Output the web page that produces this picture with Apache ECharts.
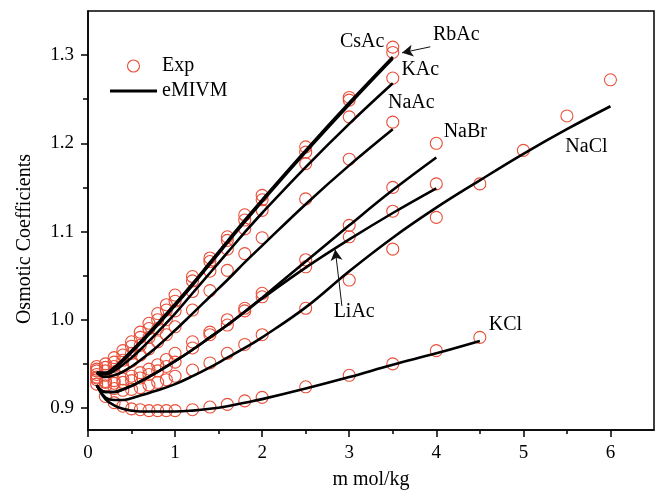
<!DOCTYPE html>
<html><head><meta charset="utf-8">
<script src="https://cdn.jsdelivr.net/npm/echarts@6/dist/echarts.min.js"></script>
<style>html,body{margin:0;padding:0;background:#fff}#c{width:660px;height:497px}</style>
</head><body><div id="c"></div>
<script>
// ---- Experimental molalities ----
const mAc = [0.1,0.2,0.3,0.4,0.5,0.6,0.7,0.8,0.9,1.0,1.2,1.4,1.6,1.8,2.0,2.5,3.0,3.5];
const mLiBr = [0.1,0.2,0.3,0.4,0.5,0.6,0.7,0.8,0.9,1.0,1.2,1.4,1.6,1.8,2.0,2.5,3.0,3.5,4.0];
const mKCl = [0.1,0.2,0.3,0.4,0.5,0.6,0.7,0.8,0.9,1.0,1.2,1.4,1.6,1.8,2.0,2.5,3.0,3.5,4.0,4.5];
const mNaCl = [0.1,0.2,0.3,0.4,0.5,0.6,0.7,0.8,0.9,1.0,1.2,1.4,1.6,1.8,2.0,2.5,3.0,3.5,4.0,4.5,5.0,5.5,6.0];

// ---- Experimental osmotic coefficients ----
const expCsAc = [0.947,0.950,0.957,0.965,0.975,0.986,0.996,1.007,1.017,1.028,1.049,1.070,1.094,1.119,1.141,1.196,1.252,1.309];
const expRbAc = [0.944,0.946,0.952,0.960,0.970,0.980,0.990,1.000,1.011,1.021,1.044,1.066,1.090,1.113,1.136,1.190,1.249,1.303];
const expKAc  = [0.942,0.942,0.947,0.954,0.962,0.971,0.980,0.990,1.000,1.010,1.032,1.055,1.080,1.103,1.124,1.177,1.230,1.274];
const expNaAc = [0.938,0.937,0.941,0.947,0.953,0.960,0.967,0.975,0.983,0.992,1.011,1.033,1.056,1.075,1.093,1.137,1.182,1.224];
const expNaBr = [0.934,0.930,0.931,0.933,0.936,0.940,0.944,0.949,0.955,0.962,0.975,0.986,1.000,1.013,1.030,1.068,1.107,1.150,1.200];
const expLiAc = [0.935,0.929,0.928,0.929,0.931,0.934,0.938,0.942,0.947,0.952,0.968,0.983,0.994,1.010,1.026,1.060,1.094,1.123,1.154];
const expNaCl = [0.932,0.925,0.922,0.920,0.921,0.923,0.926,0.929,0.932,0.936,0.943,0.951,0.962,0.972,0.983,1.013,1.045,1.080,1.116,1.154,1.192,1.231,1.272];
const expKCl  = [0.927,0.913,0.906,0.902,0.899,0.898,0.897,0.897,0.897,0.897,0.898,0.901,0.904,0.908,0.912,0.924,0.937,0.950,0.965,0.980];

// ---- eMIVM model curves ----
const mFit35 = [0.1,0.2,0.3,0.4,0.5,0.6,0.8,1.0,1.2,1.4,1.6,1.8,2.0,2.5,3.0,3.5];
const fitCsAc = [0.940,0.940,0.946,0.955,0.965,0.975,0.996,1.018,1.041,1.065,1.089,1.113,1.136,1.192,1.246,1.298];
const fitRbAc = [0.940,0.939,0.945,0.953,0.963,0.973,0.994,1.016,1.039,1.063,1.087,1.111,1.134,1.190,1.244,1.296];
const fitKAc  = [0.940,0.938,0.942,0.949,0.957,0.966,0.986,1.007,1.030,1.053,1.076,1.099,1.121,1.173,1.222,1.268];
const fitNaAc = [0.940,0.935,0.937,0.941,0.947,0.954,0.970,0.988,1.007,1.026,1.045,1.065,1.084,1.131,1.175,1.216];
const mFit40 = [0.1,0.2,0.3,0.4,0.5,0.6,0.8,1.0,1.2,1.4,1.6,1.8,2.0,2.5,3.0,3.5,4.0];
const fitNaBr = [0.925,0.918,0.918,0.921,0.925,0.930,0.941,0.953,0.966,0.980,0.994,1.009,1.025,1.066,1.107,1.147,1.184];
const fitLiAc = [0.925,0.918,0.918,0.921,0.925,0.930,0.941,0.953,0.966,0.980,0.994,1.009,1.024,1.059,1.091,1.121,1.149];
const mFitNaCl = [0.1,0.2,0.3,0.4,0.5,0.6,0.8,1.0,1.2,1.4,1.6,1.8,2.0,2.5,3.0,3.5,4.0,4.5,5.0,5.5,6.0];
const fitNaCl = [0.926,0.912,0.909,0.909,0.911,0.914,0.920,0.927,0.936,0.946,0.957,0.968,0.980,1.014,1.055,1.093,1.127,1.158,1.188,1.216,1.242];
const mFitKCl = [0.1,0.2,0.3,0.4,0.5,0.6,0.8,1.0,1.2,1.4,1.6,1.8,2.0,2.5,3.0,3.5,4.0,4.5];
const fitKCl  = [0.926,0.910,0.903,0.899,0.897,0.896,0.896,0.896,0.897,0.899,0.902,0.906,0.910,0.922,0.935,0.949,0.962,0.976];

// ---- Annotations ----
const labelNames = ['CsAc','RbAc','KAc','NaAc','NaBr','NaCl','LiAc','KCl'];
const labelX = [3.149,4.230,3.816,3.713,4.333,5.724,3.057,4.793];
const labelY = [1.3147,1.3227,1.2830,1.2456,1.2127,1.1958,1.0088,0.9941];
const arrowFrom = [[3.931,1.3094],[2.916,1.0156]];
const arrowTo   = [[3.606,1.3026],[2.839,1.0796]];

// ---- Axis ticks ----
const xMajor = [0,1,2,3,4,5,6];
const xMinor = [0.5,1.5,2.5,3.5,4.5,5.5];
const yMajor = [0.9,1.0,1.1,1.2,1.3];
const yMinor = [0.95,1.05,1.15,1.25];

const FONT = 'Liberation Serif';
const RED = '#e8503a';
const zip = (xs, ys) => xs.map((x, i) => [x, ys[i]]);

const expSets = [[mAc,expCsAc],[mAc,expRbAc],[mAc,expKAc],[mAc,expNaAc],[mLiBr,expNaBr],[mLiBr,expLiAc],[mNaCl,expNaCl],[mKCl,expKCl]];
const fitSets = [[mFit35,fitCsAc],[mFit35,fitRbAc],[mFit35,fitKAc],[mFit35,fitNaAc],[mFit40,fitNaBr],[mFit40,fitLiAc],[mFitNaCl,fitNaCl],[mFitKCl,fitKCl]];

const series = [];
expSets.forEach(([xs, ys]) => series.push({
  name: 'Exp', type: 'scatter', data: zip(xs, ys), symbol: 'circle', symbolSize: 12,
  itemStyle: { color: 'transparent', borderColor: RED, borderWidth: 1.1, opacity: 1 }, z: 2, silent: true
}));
fitSets.forEach(([xs, ys]) => series.push({
  name: 'eMIVM', type: 'line', data: zip(xs, ys), smooth: 0.4, showSymbol: false, symbol: 'none',
  lineStyle: { color: '#000', width: 2.6 }, itemStyle: { color: '#000' }, z: 3, silent: true
}));
series.push({
  name: 'labels', type: 'scatter', symbolSize: 0, silent: true, z: 5,
  itemStyle: { opacity: 1, color: '#000' },
  data: labelNames.map((n, i) => [labelX[i], labelY[i], n]),
  label: { show: true, position: 'inside', formatter: p => p.data[2], color: '#000', opacity: 1, fontSize: 20, fontFamily: FONT },
  markLine: {
    silent: true, symbol: ['none', 'arrow'], symbolSize: [9, 11],
    lineStyle: { color: '#111', width: 1, type: 'solid', opacity: 1 }, label: { show: false },
    itemStyle: { color: '#111' },
    data: arrowFrom.map((f, i) => [{ coord: f }, { coord: arrowTo[i] }])
  }
});

const axisCommon = {
  type: 'value', splitLine: { show: false },
  axisLine: { show: true, onZero: false, lineStyle: { color: '#000', width: 1.5 } }
};

const option = {
  animation: false,
  backgroundColor: '#fff',
  grid: { left: 88, right: 6, top: 11, bottom: 67, show: true, borderColor: '#000', borderWidth: 1.5, backgroundColor: 'transparent' },
  legend: {
    orient: 'vertical', left: 105, top: 51, itemWidth: 47, itemHeight: 12, itemGap: 5,
    textStyle: { fontFamily: FONT, fontSize: 20, color: '#000' },
    data: [
      { name: 'Exp', icon: 'circle', itemStyle: { color: 'transparent', borderColor: RED, borderWidth: 1.1 } },
      { name: 'eMIVM', icon: 'path://M0,0 L47,0 L47,3 L0,3 Z', itemStyle: { color: '#000' } }
    ],
    selectedMode: false
  },
  xAxis: [
    Object.assign({}, axisCommon, {
      min: 0, max: 6.5, position: 'bottom',
      name: 'm mol/kg', nameLocation: 'middle', nameGap: 40,
      nameTextStyle: { fontFamily: FONT, fontSize: 20, color: '#000' },
      axisTick: { show: true, inside: false, length: 7, customValues: xMajor, lineStyle: { color: '#000', width: 1.5 } },
      axisLabel: { show: true, customValues: xMajor, margin: 14, fontFamily: FONT, fontSize: 19, color: '#000', formatter: v => String(v) }
    }),
    Object.assign({}, axisCommon, {
      min: 0, max: 6.5, position: 'bottom', axisLine: { show: false },
      axisTick: { show: true, inside: false, length: 4, customValues: xMinor, lineStyle: { color: '#000', width: 1.5 } },
      axisLabel: { show: false }
    })
  ],
  yAxis: [
    Object.assign({}, axisCommon, {
      min: 0.875, max: 1.35, position: 'left',
      name: 'Osmotic Coefficients', nameLocation: 'middle', nameGap: 53, nameRotate: 90,
      nameTextStyle: { fontFamily: FONT, fontSize: 20, color: '#000', padding: [0, 0, 0, -37] },
      axisTick: { show: true, inside: false, length: 7, customValues: yMajor, lineStyle: { color: '#000', width: 1.5 } },
      axisLabel: { show: true, customValues: yMajor, margin: 14, fontFamily: FONT, fontSize: 19, color: '#000', formatter: v => v.toFixed(1) }
    }),
    Object.assign({}, axisCommon, {
      min: 0.875, max: 1.35, position: 'left', axisLine: { show: false },
      axisTick: { show: true, inside: false, length: 5, customValues: yMinor, lineStyle: { color: '#000', width: 1.5 } },
      axisLabel: { show: false }
    })
  ],
  series: series
};

const chart = echarts.init(document.getElementById('c'), null, { renderer: 'canvas' });
chart.setOption(option);
</script>
</body></html>
